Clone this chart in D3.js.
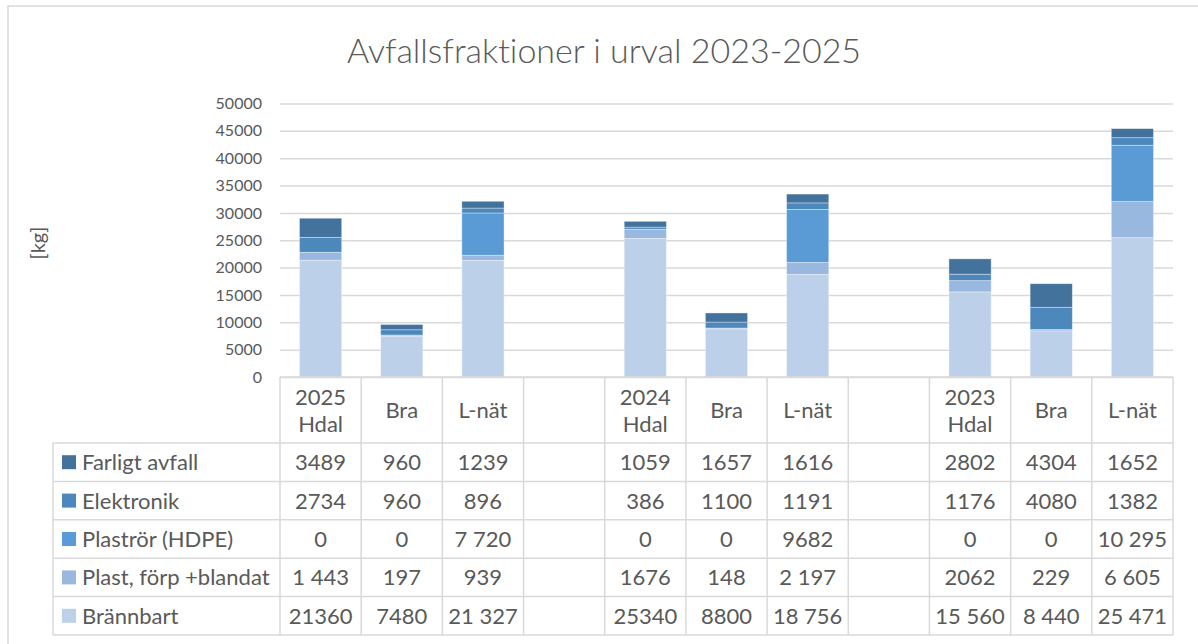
<!DOCTYPE html>
<html>
<head>
<meta charset="utf-8">
<script src="https://cdn.jsdelivr.net/npm/d3@7"></script>
<style>
  body { margin: 0; background: #fff; }
  text { font-family: Lato, "Open Sans", sans-serif; fill: #595959; font-variant-ligatures: none; }
</style>
</head>
<body>
<div id="chart"></div>
<script>
// Data
var categories = ["2025\nHdal", "Bra", "L-nät", "", "2024\nHdal", "Bra", "L-nät", "", "2023\nHdal", "Bra", "L-nät"];
var seriesNames = ["Farligt avfall", "Elektronik", "Plaströr (HDPE)", "Plast, förp +blandat", "Brännbart"];
var farligt = [3489, 960, 1239, null, 1059, 1657, 1616, null, 2802, 4304, 1652];
var elektronik = [2734, 960, 896, null, 386, 1100, 1191, null, 1176, 4080, 1382];
var plastror = [0, 0, 7720, null, 0, 0, 9682, null, 0, 0, 10295];
var plast = [1443, 197, 939, null, 1676, 148, 2197, null, 2062, 229, 6605];
var brannbart = [21360, 7480, 21327, null, 25340, 8800, 18756, null, 15560, 8440, 25471];
// cells that the source table prints with a space as thousands separator
var spacedCells = {
    "Plaströr (HDPE)": [2, 10],
    "Plast, förp +blandat": [0, 6, 10],
    "Brännbart": [2, 6, 8, 9, 10]
};
var yTicks = [0, 5000, 10000, 15000, 20000, 25000, 30000, 35000, 40000, 45000, 50000];

var colors = {
    "Farligt avfall": "#43729d",
    "Elektronik": "#4d88bd",
    "Plaströr (HDPE)": "#5a9ad5",
    "Plast, förp +blandat": "#98b8df",
    "Brännbart": "#bdd0ea"
};
var values = {
    "Farligt avfall": farligt,
    "Elektronik": elektronik,
    "Plaströr (HDPE)": plastror,
    "Plast, förp +blandat": plast,
    "Brännbart": brannbart
};

// layout
var W = 1198, H = 644;
var plotL = 280, plotR = 1173, plotB = 377, plotT = 103.5;
var headH = 66, rowH = 38.4, legendL = 53;
var gridColor = "#d9d9d9";
var tableFont = "22px";

var svg = d3.select("#chart").append("svg")
    .attr("width", W)
    .attr("height", H);

// chart frame
svg.append("rect")
    .attr("x", 8).attr("y", 6)
    .attr("width", W + 10).attr("height", H + 10)
    .attr("fill", "none")
    .attr("stroke", gridColor)
    .attr("stroke-width", 1.5);

// title
svg.append("text")
    .attr("x", 604).attr("y", 63)
    .attr("text-anchor", "middle")
    .style("font-size", "34px")
    .style("font-weight", 300)
    .text("Avfallsfraktioner i urval 2023-2025");

// y label
svg.append("text")
    .attr("transform", "translate(45,243) rotate(-90)")
    .attr("text-anchor", "middle")
    .style("font-size", "20px")
    .text("[kg]");

var x = d3.scaleBand()
    .domain(d3.range(categories.length))
    .range([plotL, plotR])
    .padding(0);
var step = x.step();
var barW = step * 0.52;

var y = d3.scaleLinear()
    .domain([0, 50000])
    .range([plotB, plotT]);

// gridlines + y axis labels
var yAxis = d3.axisLeft(y)
    .tickValues(yTicks)
    .tickSize(-(plotR - plotL))
    .tickPadding(18)
    .tickFormat(d3.format("d"));

var gy = svg.append("g")
    .attr("transform", "translate(" + plotL + ",0)")
    .call(yAxis);
gy.select(".domain").remove();
gy.selectAll(".tick line")
    .attr("stroke", gridColor)
    .attr("stroke-width", 1.5);
gy.selectAll(".tick text")
    .style("font-size", "16px")
    .style("font-family", "Lato, 'Open Sans', sans-serif")
    .attr("fill", "#595959");

// stacked bars
var rows = categories.map(function (c, i) {
    var r = { i: i };
    seriesNames.forEach(function (s) { r[s] = values[s][i] || 0; });
    return r;
});
var stackKeys = seriesNames.slice().reverse();
var stacked = d3.stack().keys(stackKeys)(rows);

svg.append("g").selectAll("g")
    .data(stacked)
    .enter().append("g")
        .attr("fill", function (d) { return colors[d.key]; })
    .selectAll("rect")
    .data(function (d) { return d; })
    .enter().append("rect")
        .attr("x", function (d) { return x(d.data.i) + (step - barW) / 2; })
        .attr("y", function (d) { return y(d[1]); })
        .attr("width", barW)
        .attr("height", function (d) { return y(d[0]) - y(d[1]); })
        .attr("stroke", "rgba(255,255,255,0.45)")
        .attr("stroke-width", function (d) { return d[1] > d[0] ? 0.8 : 0; });

// data table
var tableTop = plotB;
var rowsTop = tableTop + headH;
var tableBottom = rowsTop + rowH * seriesNames.length;
var table = svg.append("g");

// horizontal lines
table.append("line")
    .attr("x1", plotL).attr("x2", plotR)
    .attr("y1", tableTop).attr("y2", tableTop);
d3.range(seriesNames.length + 1).forEach(function (k) {
    table.append("line")
        .attr("x1", legendL).attr("x2", plotR)
        .attr("y1", rowsTop + k * rowH).attr("y2", rowsTop + k * rowH);
});
// vertical lines
table.append("line")
    .attr("x1", legendL).attr("x2", legendL)
    .attr("y1", rowsTop).attr("y2", tableBottom);
d3.range(categories.length + 1).forEach(function (k) {
    var xx = plotL + k * step;
    table.append("line")
        .attr("x1", xx).attr("x2", xx)
        .attr("y1", tableTop).attr("y2", tableBottom);
});
table.selectAll("line")
    .attr("stroke", gridColor)
    .attr("stroke-width", 1.5);

// header labels
categories.forEach(function (c, i) {
    var parts = c.split("\n");
    var cx = x(i) + step / 2;
    var cy = tableTop + headH / 2;
    var t = table.append("text")
        .attr("x", cx)
        .attr("text-anchor", "middle")
        .style("font-size", tableFont);
    parts.forEach(function (p, k) {
        t.append("tspan")
            .attr("x", cx)
            .attr("y", cy + 8 + (k - (parts.length - 1) / 2) * 27)
            .text(p);
    });
});

// series rows
var fmtSpace = function (v) { return d3.format(",")(v).replace(/,/g, " "); };
seriesNames.forEach(function (s, r) {
    var cy = rowsTop + r * rowH + rowH / 2;
    table.append("rect")
        .attr("x", 62).attr("y", cy - 7)
        .attr("width", 14).attr("height", 14)
        .attr("fill", colors[s]);
    table.append("text")
        .attr("x", 82).attr("y", cy + 8)
        .style("font-size", tableFont)
        .text(s);
    values[s].forEach(function (v, i) {
        if (v === null) return;
        var spaced = (spacedCells[s] || []).indexOf(i) >= 0;
        table.append("text")
            .attr("x", x(i) + step / 2)
            .attr("y", cy + 8)
            .attr("text-anchor", "middle")
            .style("font-size", tableFont)
            .text(spaced ? fmtSpace(v) : String(v));
    });
});
</script>
</body>
</html>
